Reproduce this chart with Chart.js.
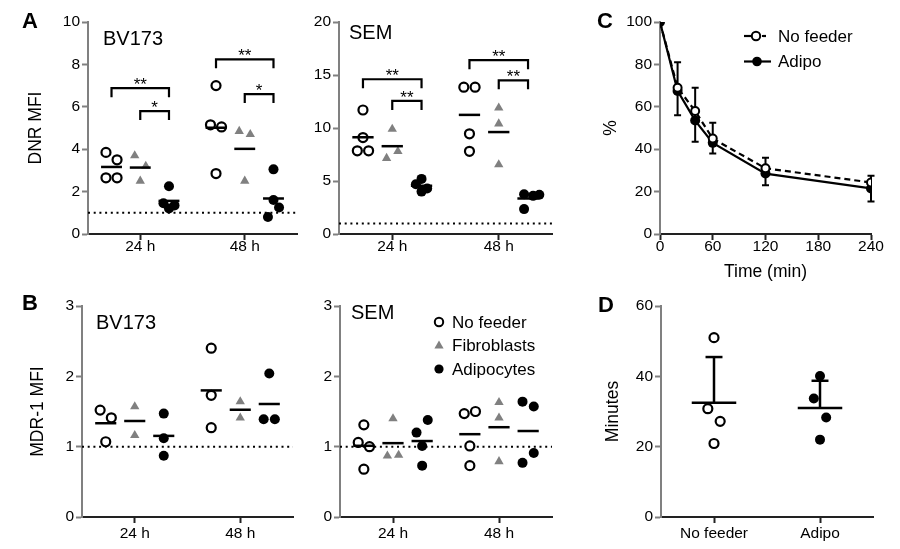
<!DOCTYPE html>
<html><head><meta charset="utf-8">
<script src="https://cdn.jsdelivr.net/npm/chart.js@4.4.0/dist/chart.umd.min.js"></script>
<style>
html,body{margin:0;padding:0;background:#fff;}
#fig{position:relative;width:900px;height:549px;overflow:hidden;font-family:"Liberation Sans",Arial,sans-serif;color:#000;background:#fff;}
#fig canvas{position:absolute;}
.lbl{position:absolute;line-height:1;white-space:nowrap;}
.letter{font-weight:bold;font-size:22px;}
.ttl{font-size:20px;}
.leg{font-size:17px;}
#marks{position:absolute;left:0;top:0;}
</style></head><body>
<div id="fig">
<canvas id="cA1"></canvas><canvas id="cA2"></canvas><canvas id="cC"></canvas>
<canvas id="cB1"></canvas><canvas id="cB2"></canvas><canvas id="cD"></canvas>
<div class="lbl letter" style="left:22px;top:10px">A</div>
<div class="lbl letter" style="left:22px;top:292px">B</div>
<div class="lbl letter" style="left:597px;top:10px">C</div>
<div class="lbl letter" style="left:598px;top:294px">D</div>
<div class="lbl ttl" style="left:103px;top:27.6px">BV173</div>
<div class="lbl ttl" style="left:349px;top:21.7px">SEM</div>
<div class="lbl ttl" style="left:96px;top:312px">BV173</div>
<div class="lbl ttl" style="left:351px;top:301.7px">SEM</div>
<svg id="marks" width="900" height="549">
  <circle cx="439" cy="322" r="4.2" fill="#fff" stroke="#000" stroke-width="2"/>
  <polygon points="439,340.5 443.6,348.5 434.4,348.5" fill="#808080"/>
  <circle cx="439" cy="369" r="4.6" fill="#000"/>
  <line x1="744" y1="36" x2="751" y2="36" stroke="#000" stroke-width="2.2"/>
  <circle cx="756" cy="36" r="4.2" fill="#fff" stroke="#000" stroke-width="2"/>
  <line x1="762" y1="36" x2="766" y2="36" stroke="#000" stroke-width="2.2"/>
  <line x1="744" y1="61.5" x2="771" y2="61.5" stroke="#000" stroke-width="2.2"/>
  <circle cx="757" cy="61.5" r="4.8" fill="#000"/>
</svg>
<div class="lbl leg" style="left:452px;top:313.7px">No feeder</div>
<div class="lbl leg" style="left:452px;top:336.7px">Fibroblasts</div>
<div class="lbl leg" style="left:452px;top:360.7px">Adipocytes</div>
<div class="lbl leg" style="left:778px;top:27.7px">No feeder</div>
<div class="lbl leg" style="left:778px;top:53.2px">Adipo</div>
</div>
<script>
// ---------------- DATA ----------------
const timeCats = ['24 h', '48 h'];
const groups = ['No feeder', 'Fibroblasts', 'Adipocytes'];

// Panel A, BV173, DNR MFI  ([24 h values], [48 h values])
const dnrBV173NoFeeder = [[3.85, 3.5, 2.65, 2.65], [7.0, 5.15, 5.05, 2.85]];
const dnrBV173Fibro    = [[3.7, 3.2, 2.5], [4.85, 4.7, 2.5]];
const dnrBV173Adipo    = [[2.25, 1.45, 1.35, 1.2], [3.05, 1.6, 1.25, 0.8]];
const dnrBV173Spread   = [[[-1, 1, -1, 1], [0, -1, 1, 0]], [[-1, 1, 0], [-1, 1, 0]], [[0, -1, 1, 0], [0, 0, 1, -1]]];
const dnrBV173Ticks    = [0, 2, 4, 6, 8, 10];

// Panel A, SEM, DNR MFI
const dnrSEMNoFeeder = [[11.7, 9.1, 7.85, 7.85], [13.85, 13.85, 9.45, 7.8]];
const dnrSEMFibro    = [[9.9, 7.8, 7.15], [11.9, 10.4, 6.55]];
const dnrSEMAdipo    = [[5.2, 4.7, 4.3, 4.0], [3.75, 3.6, 3.7, 2.35]];
const dnrSEMSpread   = [[[0, 0, -1, 1], [-1, 1, 0, 0]], [[0, 1, -1], [0, 0, 0]], [[0, -1, 1, 0], [-0.7, 0.9, 2, -0.7]]];
const dnrSEMTicks    = [0, 5, 10, 15, 20];

// significance brackets: category (1 = 24 h, 2 = 48 h), group from/to, bracket level, label
const sigBV173 = [
  {cat: 1, from: 0, to: 2, y: 6.88, text: '**'},
  {cat: 1, from: 1, to: 2, y: 5.8, text: '*'},
  {cat: 2, from: 0, to: 2, y: 8.24, text: '**'},
  {cat: 2, from: 1, to: 2, y: 6.6, text: '*'}
];
const sigSEM = [
  {cat: 1, from: 0, to: 2, y: 14.6, text: '**'},
  {cat: 1, from: 1, to: 2, y: 12.55, text: '**'},
  {cat: 2, from: 0, to: 2, y: 16.4, text: '**'},
  {cat: 2, from: 1, to: 2, y: 14.5, text: '**'}
];

// Panel B, BV173, MDR-1 MFI
const mdrBV173NoFeeder = [[1.52, 1.41, 1.07], [2.4, 1.73, 1.27]];
const mdrBV173Fibro    = [[1.57, 1.16], [1.64, 1.41]];
const mdrBV173Adipo    = [[1.47, 1.12, 0.87], [2.04, 1.39, 1.39]];
const mdrBV173Spread   = [[[-1, 1, 0], [0, 0, 0]], [[0, 0], [0, 0]], [[0, 0, 0], [0, -1, 1]]];

// Panel B, SEM, MDR-1 MFI
const mdrSEMNoFeeder = [[1.31, 1.06, 1.0, 0.68], [1.47, 1.5, 1.01, 0.73]];
const mdrSEMFibro    = [[1.4, 0.87, 0.88], [1.63, 1.41, 0.79]];
const mdrSEMAdipo    = [[1.38, 1.2, 1.01, 0.73], [1.64, 1.57, 0.91, 0.77]];
const mdrSEMSpread   = [[[0, -1, 1, 0], [-1, 1, 0, 0]], [[0, -1, 1], [0, 0, 0]], [[1, -1, 0, 0], [-1, 1, 1, -1]]];
const mdrTicks       = [0, 1, 2, 3];

// Panel C, efflux time course (%)
const timeMin      = [0, 20, 40, 60, 120, 240];
const pctNoFeeder  = [100, 69, 58, 45, 31, 24.3];
const pctAdipo     = [100, 67.5, 53.5, 43, 28.5, 21.5];
const errNoFeeder  = [0, 12, 11, 7.5, 5, 3.2];
const errAdipo     = [0, 11.5, 10, 5, 5.5, 6.2];
const timeTicks    = [0, 60, 120, 180, 240];
const pctTicks     = [0, 20, 40, 60, 80, 100];

// Panel D, minutes
const dCats            = ['No feeder', 'Adipo'];
const minutesNoFeeder  = [51, 30.8, 27.2, 20.9];
const minutesAdipo     = [40.1, 33.7, 28.3, 22.0];
const minutesSpread    = [[0, -1, 1, 0], [0, -1, 1, 0]];
const minutesTicks     = [0, 20, 40, 60];

// ---------------- STYLE / LAYOUT ----------------
const FONT = '"Liberation Sans", Arial, sans-serif';
Chart.defaults.font.family = FONT;
Chart.defaults.color = '#000';
Chart.defaults.animation = false;

const groupOffset = [-0.275, 0, 0.275];
const jitterUnit = 0.053;
const meanHalf = 0.1;
const grpStyle = [
  {ps: 'circle', r: 4.5, bg: '#fff', bc: '#000', bw: 2.2},
  {ps: 'triangle', r: 5.4, bg: '#808080', bc: '#808080', bw: 0},
  {ps: 'circle', r: 5, bg: '#000', bc: '#000', bw: 0}
];
const mean = a => a.reduce((s, v) => s + v, 0) / a.length;
const sd = a => { const m = mean(a); return Math.sqrt(a.reduce((s, v) => s + (v - m) * (v - m), 0) / (a.length - 1)); };

function lineSet(pts, extra) {
  return Object.assign({data: pts, showLine: true, borderColor: '#000', borderWidth: 2.5, pointRadius: 0, pointHoverRadius: 0, fill: false, tension: 0}, extra || {});
}

function scatterSets(groupVals, spreads, xMin, xMax) {
  const means = [], pts = [];
  groupVals.forEach((g, gi) => {
    const data = [];
    g.forEach((vals, ci) => {
      const cx = ci + 1 + groupOffset[gi];
      vals.forEach((v, k) => data.push({x: cx + spreads[gi][ci][k] * jitterUnit, y: v}));
      const m = mean(vals);
      means.push(lineSet([{x: cx - meanHalf, y: m}, {x: cx + meanHalf, y: m}]));
    });
    const s = grpStyle[gi];
    pts.push({label: groups[gi], data, showLine: false, pointStyle: s.ps, pointRadius: s.r, pointHoverRadius: s.r,
      pointBackgroundColor: s.bg, pointBorderColor: s.bc, pointBorderWidth: s.bw});
  });
  const ref = lineSet([{x: xMin, y: 1}, {x: xMax, y: 1}], {borderWidth: 2, borderDash: [2, 3.7]});
  return means.concat(pts, [ref]);
}

function sigPlugin(items) {
  return {
    id: 'sig',
    afterDatasetsDraw(chart) {
      const {ctx} = chart, x = chart.scales.x, y = chart.scales.y;
      ctx.save();
      ctx.strokeStyle = '#000'; ctx.fillStyle = '#000'; ctx.lineWidth = 2.2;
      ctx.font = '17px ' + FONT; ctx.textAlign = 'center'; ctx.textBaseline = 'alphabetic';
      items.forEach(it => {
        const xa = x.getPixelForValue(it.cat + groupOffset[it.from]);
        const xb = x.getPixelForValue(it.cat + groupOffset[it.to]);
        const yy = y.getPixelForValue(it.y);
        ctx.beginPath(); ctx.moveTo(xa, yy + 9); ctx.lineTo(xa, yy); ctx.lineTo(xb, yy); ctx.lineTo(xb, yy + 9); ctx.stroke();
        ctx.fillText(it.text, (xa + xb) / 2, yy + 2);
      });
      ctx.restore();
    }
  };
}

function makeChart(id, f, o) {
  const cv = document.getElementById(id);
  cv.width = f.x1 - f.x0; cv.height = f.y1 - f.y0;
  cv.style.left = f.x0 + 'px'; cv.style.top = f.y0 + 'px';
  const yW = f.l - f.x0, xH = f.y1 - f.b;
  const xScale = {
    type: 'linear', min: o.xMin, max: o.xMax, offset: false,
    afterFit(s) { s.height = xH; },
    ticks: {font: {size: 15.5}, color: '#000', padding: o.xPad, maxRotation: 0, autoSkip: false, includeBounds: false},
    grid: {display: true, drawOnChartArea: false, drawTicks: true, tickLength: 6, tickColor: '#222', tickWidth: 2},
    border: {display: true, color: '#222', width: 2},
    title: {display: !!o.xTitle, text: o.xTitle || '', font: {size: 17.5}, color: '#000'}
  };
  if (o.xTickVals) {
    xScale.afterBuildTicks = s => { s.ticks = o.xTickVals.map(v => ({value: v})); };
    xScale.ticks.callback = (v) => { const i = o.xTickVals.indexOf(v); return i >= 0 ? o.xTickLabels[i] : ''; };
  }
  const yScale = {
    type: 'linear', min: o.yTicks[0], max: o.yTicks[o.yTicks.length - 1],
    afterFit(s) { s.width = yW; },
    afterBuildTicks: s => { s.ticks = o.yTicks.map(v => ({value: v})); },
    ticks: {font: {size: 15.5}, color: '#000', padding: 2},
    grid: {display: true, drawOnChartArea: false, drawTicks: true, tickLength: 6, tickColor: '#808080', tickWidth: 2},
    border: {display: true, color: '#808080', width: 2},
    title: {display: !!o.yTitle, text: o.yTitle || '', font: {size: 17.5}, color: '#000'}
  };
  return new Chart(cv, {
    type: 'scatter',
    data: {datasets: o.datasets},
    options: {
      responsive: false, animation: false, devicePixelRatio: 1,
      layout: {padding: {top: f.t - f.y0, right: f.x1 - f.r, left: 0, bottom: 0}},
      plugins: {legend: {display: false}, tooltip: {enabled: false}},
      events: [],
      scales: {x: xScale, y: yScale}
    },
    plugins: o.plugins || []
  });
}

// ---------------- PANELS ----------------
const catTicks = [1, 2];
makeChart('cA1', {x0: 22, x1: 305, y0: 0, y1: 260, l: 88, r: 297, t: 22, b: 234}, {
  xMin: 0.5, xMax: 2.5, xTickVals: catTicks, xTickLabels: timeCats, xPad: -3,
  yTicks: dnrBV173Ticks, yTitle: 'DNR MFI',
  datasets: scatterSets([dnrBV173NoFeeder, dnrBV173Fibro, dnrBV173Adipo], dnrBV173Spread, 0.5, 2.5),
  plugins: [sigPlugin(sigBV173)]
});
makeChart('cA2', {x0: 300, x1: 560, y0: 0, y1: 260, l: 339, r: 552, t: 22, b: 234}, {
  xMin: 0.5, xMax: 2.5, xTickVals: catTicks, xTickLabels: timeCats, xPad: -3,
  yTicks: dnrSEMTicks,
  datasets: scatterSets([dnrSEMNoFeeder, dnrSEMFibro, dnrSEMAdipo], dnrSEMSpread, 0.5, 2.5),
  plugins: [sigPlugin(sigSEM)]
});
makeChart('cB1', {x0: 24, x1: 300, y0: 290, y1: 549, l: 82, r: 293, t: 306, b: 517}, {
  xMin: 0.5, xMax: 2.5, xTickVals: catTicks, xTickLabels: timeCats, xPad: 1,
  yTicks: mdrTicks, yTitle: 'MDR-1 MFI',
  datasets: scatterSets([mdrBV173NoFeeder, mdrBV173Fibro, mdrBV173Adipo], mdrBV173Spread, 0.5, 2.5)
});
makeChart('cB2', {x0: 300, x1: 560, y0: 290, y1: 549, l: 340, r: 552, t: 306, b: 517}, {
  xMin: 0.5, xMax: 2.5, xTickVals: catTicks, xTickLabels: timeCats, xPad: 1,
  yTicks: mdrTicks,
  datasets: scatterSets([mdrSEMNoFeeder, mdrSEMFibro, mdrSEMAdipo], mdrSEMSpread, 0.5, 2.5)
});

// Panel C
const errPlugin = {
  id: 'errC',
  beforeDatasetsDraw(chart) {
    const {ctx} = chart, x = chart.scales.x, y = chart.scales.y;
    ctx.save(); ctx.strokeStyle = '#000'; ctx.lineWidth = 2;
    timeMin.forEach((t, i) => {
      if (!errNoFeeder[i] && !errAdipo[i]) return;
      const px = x.getPixelForValue(t);
      const top = y.getPixelForValue(pctNoFeeder[i] + errNoFeeder[i]);
      const bot = y.getPixelForValue(pctAdipo[i] - errAdipo[i]);
      ctx.beginPath();
      ctx.moveTo(px, top); ctx.lineTo(px, bot);
      ctx.moveTo(px - 3.5, top); ctx.lineTo(px + 3.5, top);
      ctx.moveTo(px - 3.5, bot); ctx.lineTo(px + 3.5, bot);
      ctx.stroke();
    });
    ctx.restore();
  }
};
makeChart('cC', {x0: 597, x1: 895, y0: 0, y1: 287, l: 660, r: 871, t: 22, b: 234}, {
  xMin: 0, xMax: 240, xTickVals: timeTicks, xTickLabels: timeTicks.map(String), xPad: -3, xTitle: 'Time (min)',
  yTicks: pctTicks, yTitle: '%',
  datasets: [
    lineSet(timeMin.map((t, i) => ({x: t, y: pctNoFeeder[i]})), {
      label: 'No feeder', borderWidth: 2.2, borderDash: [6, 4],
      pointRadius: ctx => (pctNoFeeder[ctx.dataIndex] === pctAdipo[ctx.dataIndex] ? 0 : 4),
      pointBackgroundColor: '#fff', pointBorderColor: '#000', pointBorderWidth: 2
    }),
    lineSet(timeMin.map((t, i) => ({x: t, y: pctAdipo[i]})), {
      label: 'Adipo', borderWidth: 2.2,
      pointRadius: 5, pointBackgroundColor: '#000', pointBorderColor: '#000', pointBorderWidth: 0
    })
  ],
  plugins: [errPlugin]
});

// Panel D
const dVals = [minutesNoFeeder, minutesAdipo];
const dStyles = [grpStyle[0], grpStyle[2]];
const dSets = [];
dVals.forEach((vals, i) => {
  const cx = i + 1, m = mean(vals), s = sd(vals);
  dSets.push(lineSet([{x: cx - 0.21, y: m}, {x: cx + 0.21, y: m}]));
  dSets.push(lineSet([{x: cx, y: m}, {x: cx, y: m + s}]));
  dSets.push(lineSet([{x: cx - 0.08, y: m + s}, {x: cx + 0.08, y: m + s}]));
});
dVals.forEach((vals, i) => {
  const st = dStyles[i];
  dSets.push({label: dCats[i], data: vals.map((v, k) => ({x: i + 1 + minutesSpread[i][k] * jitterUnit * 1.1, y: v})),
    showLine: false, pointStyle: st.ps, pointRadius: st.r, pointHoverRadius: st.r,
    pointBackgroundColor: st.bg, pointBorderColor: st.bc, pointBorderWidth: st.bw});
});
makeChart('cD', {x0: 599, x1: 895, y0: 290, y1: 549, l: 661, r: 873, t: 306, b: 517}, {
  xMin: 0.5, xMax: 2.5, xTickVals: catTicks, xTickLabels: dCats, xPad: 1,
  yTicks: minutesTicks, yTitle: 'Minutes',
  datasets: dSets
});
</script>
</body></html>
